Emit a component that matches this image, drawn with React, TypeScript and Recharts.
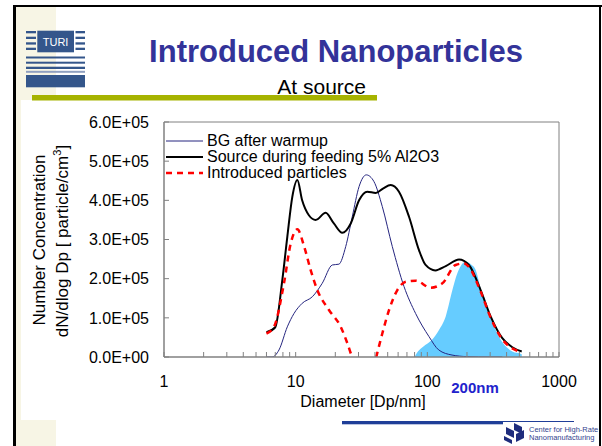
import React from 'react';
import { ComposedChart, Line, Area, XAxis, YAxis, Legend, ReferenceLine } from 'recharts';

const FONT = '"Liberation Sans", Arial, sans-serif';
const AXIS = '#808080';

const seriesNames = ['BG after warmup', 'Source during feeding 5% Al2O3', 'Introduced particles'];

// diameters (nm) and dN/dlogDp values
const bgDiam = [6.0, 6.6, 7.47, 8.64, 9.71, 11.2, 13.4, 15.9, 19.0, 21.3, 24.0, 26.9, 30.3, 34.4, 39.3, 45.5, 54.2, 66.5, 81.5, 103, 122, 154, 200, 300, 371];
const bgVals = [0, 0, 18000, 77000, 111000, 137000, 154000, 188000, 235000, 237000, 282000, 358000, 435000, 465000, 448000, 384000, 282000, 180000, 111000, 52000, 18000, 5000, 1000, 0, 0];

const srcDiam = [6.0, 7.0, 7.92, 8.64, 9.43, 10.3, 11.2, 12.6, 14.2, 16.9, 19.5, 22.6, 26.2, 30.3, 35.0, 40.5, 46, 52.7, 60.9, 72.6, 86.4, 97, 115, 138, 174, 207, 254, 303, 371, 442, 521];
const srcVals = [63000, 76000, 197000, 307000, 409000, 452000, 400000, 362000, 350000, 368000, 341000, 317000, 341000, 400000, 422000, 419000, 430000, 439000, 422000, 358000, 273000, 235000, 221000, 232000, 249000, 235000, 171000, 103000, 48000, 25000, 14000];

const introDiam = [6.0, 6.84, 8.15, 9.17, 10.3, 11.6, 13.0, 14.6, 17.9, 22.0, 24.7, 27.5, 31, 35, 39, 42, 45.5, 51.2, 59.2, 68.5, 81.5, 106, 130, 164, 190, 207, 254, 303, 371, 442, 521];
const introVals = [60000, 77000, 188000, 290000, 326000, 282000, 222000, 171000, 120000, 77000, 35000, -10000, -40000, -45000, -25000, 15000, 60000, 120000, 171000, 192000, 195000, 177000, 188000, 235000, 239000, 230000, 167000, 100000, 45000, 22000, 13000];

const peakDiam = [80, 81.5, 97, 109, 122.6, 137.7, 155, 169, 180, 195, 215, 233, 254, 294, 350, 442, 521, 522];
const peakVals = [0, 5000, 31000, 45000, 69000, 103000, 171000, 214000, 233000, 243000, 236000, 222000, 175000, 111000, 52000, 14000, 7000, 0];

const xTicks = [1, 2, 3, 4, 5, 6, 7, 8, 9, 10, 20, 30, 40, 50, 60, 70, 80, 90, 100, 200, 300, 400, 500, 600, 700, 800, 900, 1000];
const xLabels = [1, 10, 100, 1000];
const yTicks = [0, 100000, 200000, 300000, 400000, 500000, 600000];

const rows = (ds: number[], vs: number[]) => ds.map((d, i) => ({ d, v: vs[i] }));
const bgData = rows(bgDiam, bgVals);
const srcData = rows(srcDiam, srcVals);
const introData = rows(introDiam, introVals);
const peakData = rows(peakDiam, peakVals);

const sci = (v: number) => (v === 0 ? '0.0E+00' : (v / 100000).toFixed(1) + 'E+05');

const XTick = ({ x, y, payload }: any) => (
  <g>
    <line x1={x} x2={x} y1={y - 19} y2={y - 24} stroke={AXIS} />
    {xLabels.includes(payload.value) && (
      <text x={x} y={y} dy="0.71em" textAnchor="middle" fontSize={16} fontFamily={FONT} fill="#000">
        {payload.value}
      </text>
    )}
  </g>
);

const YTick = ({ x, y, payload }: any) => (
  <g>
    <line x1={x + 15} x2={x + 20} y1={y} y2={y} stroke={AXIS} />
    <text x={x} y={y} dy="0.355em" textAnchor="end" fontSize={16} fontFamily={FONT} fill="#000">
      {sci(payload.value)}
    </text>
  </g>
);

const LegendBox = ({ payload }: any) => {
  const items = (payload || [])
    .filter((p: any) => seriesNames.includes(p.value))
    .sort((a: any, b: any) => seriesNames.indexOf(a.value) - seriesNames.indexOf(b.value));
  return (
    <div style={{ fontFamily: FONT, fontSize: 16, lineHeight: '16px', color: '#000' }}>
      {items.map((p: any) => (
        <div key={p.value} style={{ display: 'flex', alignItems: 'center', height: 16, whiteSpace: 'nowrap' }}>
          <svg width={37} height={16}>
            <line
              x1={0}
              x2={37}
              y1={8}
              y2={8}
              stroke={p.color}
              strokeWidth={p.payload?.strokeWidth ?? 1}
              strokeDasharray={p.payload?.strokeDasharray}
            />
          </svg>
          <span style={{ marginLeft: 4 }}>{p.value}</span>
        </div>
      ))}
    </div>
  );
};

const Slide = () => (
  <svg width={602} height={446} style={{ position: 'absolute', left: 0, top: 0 }}>
    <rect x={0} y={0} width={602} height={446} fill="#fff" />
    <rect x={16} y={7} width={40} height={93} fill="#F7F5E5" />
    <rect x={16} y={100} width={5} height={320} fill="#F7F5E5" />
    <rect x={16} y={420} width={40} height={26} fill="#F7F5E5" />
    <rect x={13} y={5} width={589} height={2} fill="#000" />
    <rect x={13} y={5} width={3} height={441} fill="#000" />
    <rect x={599} y={5} width={2} height={441} fill="#000" />
    {/* TURI logo */}
    <g fill="#34568B">
      {[31, 36.7, 42.3, 47.7].map((y) => (
        <g key={y}>
          <rect x={26} y={y} width={10} height={2.3} />
          <rect x={75.5} y={y} width={9.5} height={2.3} />
        </g>
      ))}
      <rect x={37.3} y={30.7} width={36.7} height={21.6} />
      <rect x={26} y={56.5} width={59} height={2} />
      <rect x={26} y={61.7} width={59} height={2} />
      <rect x={26} y={66.7} width={59} height={2.3} />
      <rect x={26} y={70.8} width={59} height={2} fill="#8FA0C0" />
      <rect x={26} y={75} width={59} height={12.3} />
    </g>
    <text x={55.6} y={45.5} textAnchor="middle" fontSize={11} fontFamily={FONT} fill="#fff">TURI</text>
    <rect x={32} y={95} width={345} height={5.5} fill="#A6B300" />
    <text x={336} y={62} textAnchor="middle" fontSize={31} fontWeight="bold" fontFamily={FONT} fill="#333399">
      Introduced Nanoparticles
    </text>
    <text x={321.7} y={94} textAnchor="middle" fontSize={21} fontFamily={FONT} fill="#000">At source</text>
    <text transform="translate(45,240) rotate(-90)" textAnchor="middle" fontSize={17} fontFamily={FONT} fill="#000">
      Number Concentration
    </text>
    <text transform="translate(67.5,241) rotate(-90)" textAnchor="middle" fontSize={17} fontFamily={FONT} fill="#000">
      dN/dlog Dp [ particle/cm<tspan fontSize={11} dy={-7}>3</tspan><tspan dy={7}>]</tspan>
    </text>
    <text x={363} y={407} textAnchor="middle" fontSize={16} fontFamily={FONT} fill="#000">Diameter [Dp/nm]</text>
    <text x={475} y={393} textAnchor="middle" fontSize={15} fontWeight="bold" fontFamily={FONT} fill="#2222CC">200nm</text>
    {/* footer */}
    <rect x={342} y={421} width={161} height={3.3} fill="#1F3E98" />
    <rect x={503} y={421} width={71} height={1} fill="#1F3E98" />
    <g fill="#1E2C7C">
      <polygon points="514,423 522,427 522,434 514,430" />
      <polygon points="506,427 514,431 514,438 506,434" />
      <polygon points="516,434 524,430 524,438 516,442" />
      <polygon points="504,436 512,440 512,444 504,440" />
    </g>
    <text x={529} y={432} fontSize={7.5} fontFamily={FONT} fill="#33448F">Center for High-Rate</text>
    <text x={529} y={439.5} fontSize={7.5} fontFamily={FONT} fill="#33448F">Nanomanufacturing</text>
  </svg>
);

export default function App() {
  return (
    <div style={{ position: 'absolute', left: 0, top: 0, width: 602, height: 446 }}>
      <Slide />
      <div style={{ position: 'absolute', left: 0, top: 0 }}>
        <ComposedChart width={602} height={446} margin={{ top: 122, right: 43, bottom: 0, left: 0 }}>
          <XAxis
            type="number"
            dataKey="d"
            scale="log"
            domain={[1, 1000]}
            allowDataOverflow
            ticks={xTicks}
            interval={0}
            height={89}
            tickSize={0}
            tickMargin={19}
            tick={<XTick />}
            axisLine={{ stroke: AXIS, strokeWidth: 1.5 }}
          />
          <YAxis
            type="number"
            domain={[0, 600000]}
            allowDataOverflow
            ticks={yTicks}
            interval={0}
            width={164}
            tickSize={0}
            tickMargin={15}
            tick={<YTick />}
            axisLine={{ stroke: AXIS, strokeWidth: 1.5 }}
          />
          <ReferenceLine y={600000} stroke={AXIS} />
          <ReferenceLine x={1000} stroke={AXIS} />
          <Area
            data={peakData}
            dataKey="v"
            type="monotone"
            fill="#66CCFF"
            fillOpacity={1}
            stroke="none"
            legendType="none"
            isAnimationActive={false}
          />
          <Line
            data={bgData}
            dataKey="v"
            name={seriesNames[0]}
            type="monotone"
            stroke="#25257F"
            strokeWidth={1}
            dot={false}
            isAnimationActive={false}
          />
          <Line
            data={srcData}
            dataKey="v"
            name={seriesNames[1]}
            type="monotone"
            stroke="#000"
            strokeWidth={2}
            dot={false}
            isAnimationActive={false}
          />
          <Line
            data={introData}
            dataKey="v"
            name={seriesNames[2]}
            type="monotone"
            stroke="#FF0000"
            strokeWidth={2.5}
            strokeDasharray="6 5"
            dot={false}
            isAnimationActive={false}
          />
          <Legend
            layout="horizontal"
            verticalAlign="middle"
            align="center"
            content={<LegendBox />}
            wrapperStyle={{ top: 133, left: 166, width: 320, height: 50 }}
          />
        </ComposedChart>
      </div>
    </div>
  );
}
